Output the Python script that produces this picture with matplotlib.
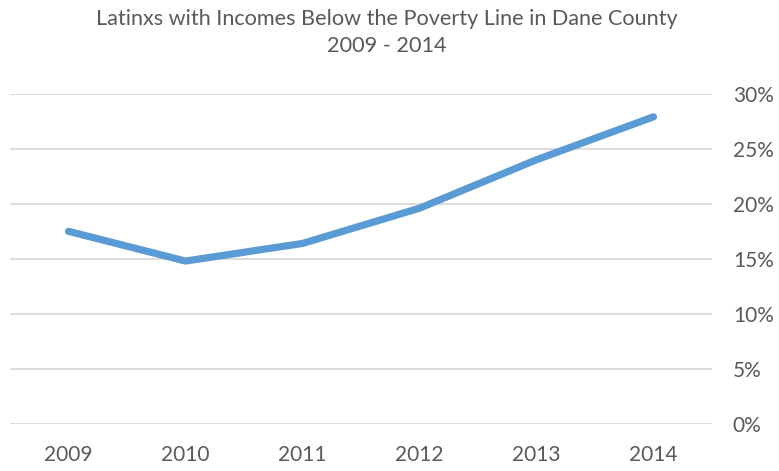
import matplotlib
matplotlib.use("Agg")
import matplotlib.pyplot as plt
from matplotlib.ticker import FuncFormatter

years = ["2009", "2010", "2011", "2012", "2013", "2014"]
poverty_pct = [17.5, 14.8, 16.4, 19.6, 24.0, 27.9]
y_ticks = [0, 5, 10, 15, 20, 25, 30]

plt.rcParams['font.family'] = ['Lato', 'DejaVu Sans']
text_color = "#595959"

fig = plt.figure(figsize=(7.79, 4.71), dpi=100)
W, H = 779, 471
left, right = 10 / W, 712 / W
bottom = (H - 424) / H
top = (H - 93.7) / H
ax = fig.add_axes([left, bottom, right - left, top - bottom])

x = list(range(len(years)))
ax.plot(x, poverty_pct, color="#5B9BD5", linewidth=5.2, solid_capstyle="round",
        solid_joinstyle="round", zorder=3)

ax.set_xlim(-0.5, len(years) - 0.5)
ax.set_ylim(0, 30)
ax.set_yticks(y_ticks)
ax.yaxis.set_major_formatter(FuncFormatter(lambda v, p: f"{int(v)}%"))
ax.yaxis.tick_right()
ax.set_xticks(x)
ax.set_xticklabels(years)
ax.grid(axis="y", color="#D9D9D9", linewidth=1.3, zorder=0)
for s in ax.spines.values():
    s.set_visible(False)
ax.tick_params(axis="both", length=0, labelsize=15, labelcolor=text_color)
ax.tick_params(axis="y", pad=15)
ax.tick_params(axis="x", pad=15)
for lbl in ax.get_yticklabels():
    lbl.set_horizontalalignment("left")

fig.text(0.497, 1 - 19 / H, "Latinxs with Incomes Below the Poverty Line in Dane County",
         ha="center", va="center", fontsize=15.6, color=text_color)
fig.text(0.497, 1 - 46 / H, "2009 - 2014", ha="center", va="center",
         fontsize=15.6, color=text_color)

fig.savefig("out.png", dpi=100)
